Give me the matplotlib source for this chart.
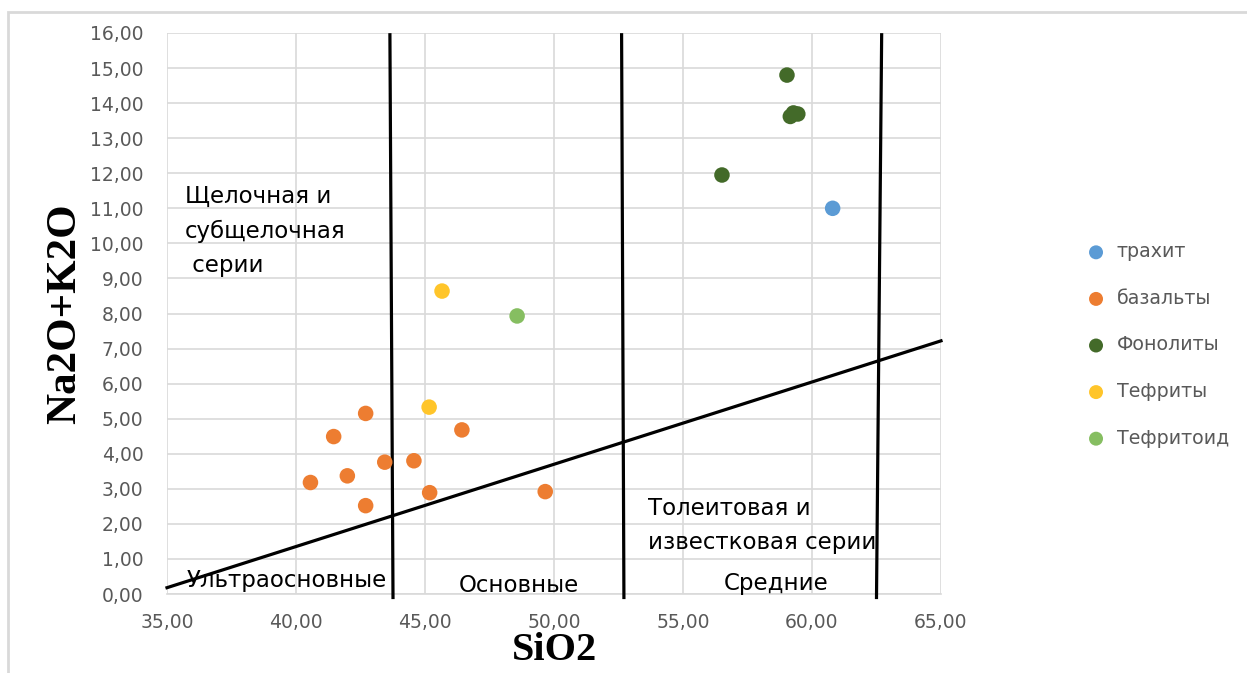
import matplotlib
matplotlib.use("Agg")
import matplotlib.pyplot as plt
from matplotlib.patches import Rectangle
from matplotlib.ticker import FuncFormatter, MultipleLocator

# --- sample data: SiO2 (x) vs Na2O+K2O (y) ---
trachyte_x = [60.8]
trachyte_y = [11.0]

basalt_x = [42.70, 41.46, 46.43, 43.44, 44.57, 41.99, 40.56, 42.70, 45.18, 49.66]
basalt_y = [5.15, 4.49, 4.68, 3.76, 3.80, 3.37, 3.18, 2.52, 2.89, 2.92]

phonolite_x = [59.03, 56.51, 59.28, 59.16, 59.45]
phonolite_y = [14.80, 11.95, 13.72, 13.62, 13.69]

tephrite_x = [45.66, 45.16]
tephrite_y = [8.64, 5.33]

tephritoid_x = [48.57]
tephritoid_y = [7.93]

series_names = ["трахит", "базальты", "Фонолиты", "Тефриты", "Тефритоид"]
series_colors = ["#5B9BD5", "#ED7D31", "#436A29", "#FFC52A", "#86BE61"]

# classification boundaries
divider_top_x = [43.64, 52.62, 62.70]     # vertical SiO2 boundaries at the top
divider_bottom_x = [43.76, 52.71, 62.50]  # same boundaries at the bottom
alkaline_line_x = [35.0, 65.0]
alkaline_line_y = [0.18, 7.22]

W, H = 1247, 673
fig = plt.figure(figsize=(W / 100, H / 100), dpi=100)
fig.patch.set_facecolor("white")

# outer chart frame
fig.add_artist(Rectangle((8 / W, -0.1), 1.2, 1 - 12 / H + 0.1, transform=fig.transFigure,
                         fill=False, edgecolor="#D9D9D9", linewidth=2.0))

ax = fig.add_axes([167 / W, 1 - 594 / H, (941 - 167) / W, (594 - 33) / H])
ax.set_xlim(35, 65)
ax.set_ylim(0, 16)
ax.xaxis.set_major_locator(MultipleLocator(5))
ax.yaxis.set_major_locator(MultipleLocator(1))
fmt = FuncFormatter(lambda v, p: f"{v:.2f}".replace(".", ","))
ax.xaxis.set_major_formatter(fmt)
ax.yaxis.set_major_formatter(fmt)
ax.grid(True, color="#D9D9D9", linewidth=1.2)
ax.set_axisbelow(True)
for side in ["top", "right", "left"]:
    ax.spines[side].set_visible(False)
ax.spines["bottom"].set_color("#D9D9D9")
ax.spines["bottom"].set_linewidth(1.2)
ax.tick_params(length=0, labelsize=13.5, labelcolor="#595959")
ax.tick_params(axis="x", pad=14)
ax.tick_params(axis="y", pad=17)
for lab in ax.get_xticklabels() + ax.get_yticklabels():
    lab.set_fontfamily("DejaVu Sans")

# boundary lines
for xt, xb in zip(divider_top_x, divider_bottom_x):
    ax.plot([xt, xb], [15.95, -0.1], color="black", linewidth=2.3, clip_on=False, zorder=3)
ax.plot(alkaline_line_x, alkaline_line_y, color="black", linewidth=2.3, clip_on=False, zorder=3)

# data points
xs = [trachyte_x, basalt_x, phonolite_x, tephrite_x, tephritoid_x]
ys = [trachyte_y, basalt_y, phonolite_y, tephrite_y, tephritoid_y]
handles = []
for x, y, name, c in zip(xs, ys, series_names, series_colors):
    h = ax.scatter(x, y, s=125, color=c, edgecolors="none", label=name, zorder=4)
    handles.append(h)

# field labels
txt = dict(fontsize=16.5, color="black", fontfamily="DejaVu Sans", zorder=5)
ax.text(35.7, 11.68, "Щелочная и\nсубщелочная\n серии", va="top", ha="left",
        linespacing=1.65, **txt)
ax.text(53.64, 2.78, "Толеитовая и\nизвестковая серии", va="top", ha="left",
        linespacing=1.65, **txt)
ax.text(35.75, 0.05, "Ультраосновные", va="bottom", ha="left", **txt)
ax.text(48.65, -0.08, "Основные", va="bottom", ha="center", **txt)
ax.text(58.6, -0.03, "Средние", va="bottom", ha="center", **txt)

ax.set_xlabel("SiO2", fontsize=29, fontweight="bold", fontfamily="Liberation Serif", labelpad=0)
ax.set_ylabel("Na2O+K2O", fontsize=31, fontweight="bold", fontfamily="Liberation Serif", labelpad=4)

leg = fig.legend(handles=handles, loc="center left", bbox_to_anchor=(1077 / W, 1 - 345 / H),
                 frameon=False, fontsize=13.7, labelcolor="#595959", handletextpad=0.5,
                 labelspacing=1.45, markerscale=0.9, borderaxespad=0, handlelength=1.2)

fig.savefig("out.png", dpi=100, facecolor="white")
